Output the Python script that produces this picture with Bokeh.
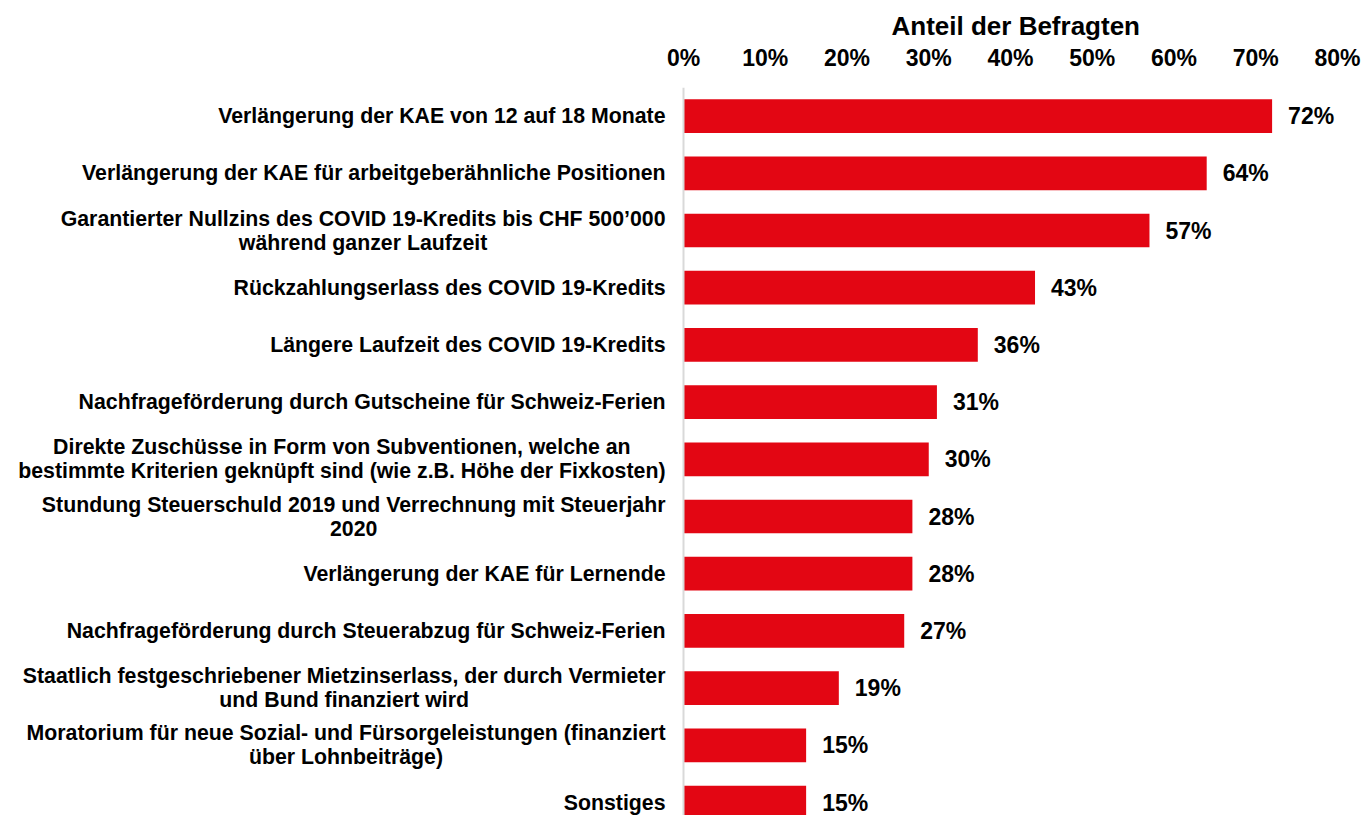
from bokeh.plotting import figure
from bokeh.models import Range1d, FixedTicker, ColumnDataSource, Span
from bokeh.core.properties import value
from bokeh.embed import file_html
from bokeh.resources import INLINE

# ---------------- data ----------------
categories = [
    "Verlängerung der KAE von 12 auf 18 Monate",
    "Verlängerung der KAE für arbeitgeberähnliche Positionen",
    "Garantierter Nullzins des COVID 19-Kredits bis CHF 500’000\nwährend ganzer Laufzeit",
    "Rückzahlungserlass des COVID 19-Kredits",
    "Längere Laufzeit des COVID 19-Kredits",
    "Nachfrageförderung durch Gutscheine für Schweiz-Ferien",
    "Direkte Zuschüsse in Form von Subventionen, welche an\nbestimmte Kriterien geknüpft sind (wie z.B. Höhe der Fixkosten)",
    "Stundung Steuerschuld 2019 und Verrechnung mit Steuerjahr\n2020",
    "Verlängerung der KAE für Lernende",
    "Nachfrageförderung durch Steuerabzug für Schweiz-Ferien",
    "Staatlich festgeschriebener Mietzinserlass, der durch Vermieter\nund Bund finanziert wird",
    "Moratorium für neue Sozial- und Fürsorgeleistungen (finanziert\nüber Lohnbeiträge)",
    "Sonstiges",
]
values = [72, 64, 57, 43, 36, 31, 30, 28, 28, 27, 19, 15, 15]
tick_values = [0, 10, 20, 30, 40, 50, 60, 70, 80]
tick_labels = ["0%", "10%", "20%", "30%", "40%", "50%", "60%", "70%", "80%"]
axis_title = "Anteil der Befragten"

# ---------------- style / layout ----------------
FONT = "Liberation Sans"
RED = "#E30613"
W, H = 1361, 815
ZERO_PX = 683          # pixel position of 0 % inside the figure
PX_PER_UNIT = 8.175    # pixels per percentage point
TOP_BORDER = 87
ROW_PX = 57.2

x_start = -ZERO_PX / PX_PER_UNIT
x_end = (W - ZERO_PX) / PX_PER_UNIT
y_top = -0.5
y_bottom = y_top + (H - TOP_BORDER) / ROW_PX

src = ColumnDataSource(dict(
    y=list(range(len(categories))),
    cat=categories,
    val=values,
    lab=[f"{v}%" for v in values],
))

p = figure(
    width=W, height=H,
    title=axis_title, title_location="above",
    x_range=Range1d(x_start, x_end),
    y_range=Range1d(y_bottom, y_top),
    x_axis_location="above", y_axis_location=None,
    output_backend="svg", toolbar_location=None,
    min_border_left=0, min_border_right=0, min_border_bottom=0,
    min_border_top=TOP_BORDER,
)
p.outline_line_color = None
p.grid.visible = False
p.background_fill_color = "white"
p.border_fill_color = "white"

# title centred over the 0-80 % scale
p.title.align = "left"
p.title.offset = 891
p.title.text_font = FONT
p.title.text_font_size = "26px"
p.title.text_font_style = "bold"
p.title.text_color = "black"
p.title.standoff = 2

ax = p.xaxis[0]
ax.bounds = (tick_values[0], tick_values[-1])
ax.ticker = FixedTicker(ticks=tick_values)
ax.major_label_overrides = {t: l for t, l in zip(tick_values, tick_labels)}
ax.axis_line_color = None
ax.major_tick_line_color = None
ax.minor_tick_line_color = None
ax.major_label_text_font = FONT
ax.major_label_text_font_size = "23px"
ax.major_label_text_font_style = "bold"
ax.major_label_text_color = "black"
ax.major_label_standoff = 11

p.add_layout(Span(location=0, dimension="height", line_color="#D9D9D9", line_width=2))

p.hbar(y="y", left=0, right="val", height=0.59, fill_color=RED,
       line_color=None, source=src)

p.text(x="val", y="y", text="lab", source=src, x_offset=16,
       text_align="left", text_baseline="middle",
       text_font=value(FONT), text_font_style="bold",
       text_font_size="23px", text_color="black")

p.text(x=0, y="y", text="cat", source=src, x_offset=-18,
       anchor=value("center_right"), text_align="center", text_baseline="middle",
       text_font=value(FONT), text_font_style="bold",
       text_font_size="21.3px", text_color="black", text_line_height=1.0)

open("out.html", "w").write(file_html(p, INLINE))
